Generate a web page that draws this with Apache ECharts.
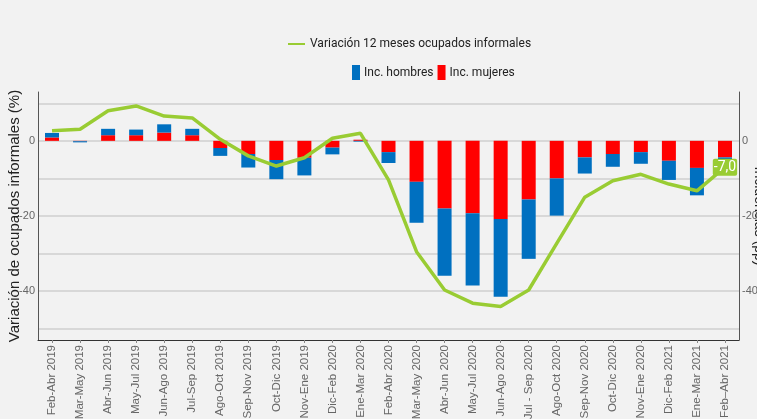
<!DOCTYPE html>
<html>
<head>
<meta charset="utf-8">
<script src="https://cdn.jsdelivr.net/npm/echarts@6/dist/echarts.min.js"></script>
<style>
    html,body{margin:0;padding:0;background:#f2f2f2;}
    #chart{width:757px;height:419px;}
</style>
</head>
<body>
<div id="chart"></div>
<script>
// trimestres moviles
var categorias = ['Feb-Abr 2019','Mar-May 2019','Abr-Jun 2019','May-Jul 2019','Jun-Ago 2019','Jul-Sep 2019',
    'Ago-Oct 2019','Sep-Nov 2019','Oct-Dic 2019','Nov-Ene 2019','Dic-Feb 2020','Ene-Mar 2020',
    'Feb-Abr 2020','Mar-May 2020','Abr-Jun 2020','May-Jul 2020','Jun-Ago 2020','Jul - Sep 2020',
    'Ago-Oct 2020','Sep-Nov 2020','Oct-Dic 2020','Nov-Ene 2020','Dic-Feb 2021','Ene-Mar 2021','Feb\u2013Abr 2021'];
// variacion 12 meses (%)
var variacion = [2.7, 3.1, 8.0, 9.3, 6.6, 6.1, 0.4, -4.0, -6.7, -4.5, 0.7, 2.0,
    -10.4, -29.5, -39.7, -43.2, -44.1, -39.7, -27.3, -15.0, -10.6, -8.9, -11.5, -13.3, -7.0];
// incidencias (pp)
var incHombres = [1.2, -0.3, 1.7, 1.5, 2.2, 1.7, -2.1, -3.6, -5.1, -4.7, -1.8, -0.2,
    -2.9, -10.9, -17.9, -19.2, -20.7, -15.8, -9.9, -4.3, -3.4, -3.1, -5.1, -7.3, -2.6];
var incMujeres = [0.9, -0.1, 1.5, 1.5, 2.2, 1.5, -1.9, -3.5, -5.1, -4.5, -1.8, 0.3,
    -3.0, -10.9, -18.0, -19.3, -20.8, -15.6, -10.0, -4.4, -3.5, -3.0, -5.3, -7.2, -4.4];
var lineasGrid = [-50, -40, -30, -20, -10, 0, 10];
var etiquetasY = [-40, -20, 0];

var fuente = "'Liberation Sans', Arial, sans-serif";
var fuenteLeyenda = "Roboto, 'Liberation Sans', sans-serif";
var verde = '#99cc33';

function coma(v){
    return v.toFixed(1).replace('.', ',');
}

//solo el ultimo punto lleva etiqueta
var datosLinea = [];
for(var i=0;i<variacion.length;i++){
    if(i == variacion.length-1){
        datosLinea.push({
            value: variacion[i],
            label: {
                show: true,
                position: 'inside',
                formatter: function(p){return coma(p.value);},
                color: '#fff',
                fontFamily: fuenteLeyenda,
                fontSize: 14,
                backgroundColor: verde,
                padding: [2, 1, 1, 1],
                borderRadius: 2
            }
        });
    } else {
        datosLinea.push(variacion[i]);
    }
}

function ejeY(pos, nombre, rotar, gap, tam){
    return {
        type: 'value',
        position: pos,
        min: -53,
        max: 13,
        name: nombre,
        nameLocation: 'middle',
        nameRotate: rotar,
        nameGap: gap,
        nameMoveOverlap: false,
        nameTextStyle: {color: '#222', fontSize: tam, fontFamily: fuente},
        axisLine: {show: true, lineStyle: {color: '#555', width: 1}},
        axisTick: {show: false, customValues: lineasGrid},
        axisLabel: {customValues: etiquetasY, color: '#666', fontSize: 11, fontFamily: fuente, margin: 3},
        splitLine: {show: pos == 'left', lineStyle: {color: '#cfcfcf', width: 1.5}}
    };
}

var chart = echarts.init(document.getElementById('chart'));
chart.setOption({
    backgroundColor: '#f2f2f2',
    animation: false,
    grid: {left: 38, right: 18, top: 92, bottom: 79, containLabel: false, outerBoundsMode: 'none'},
    legend: [
        {
            data: ['Variación 12 meses ocupados informales'],
            left: 283, top: 33,
            icon: 'rect', itemWidth: 17, itemHeight: 2, itemGap: 5,
            textStyle: {color: '#222', fontSize: 12, fontFamily: fuenteLeyenda}
        },
        {
            data: ['Inc. hombres', 'Inc. mujeres'],
            left: 347, top: 60,
            icon: 'rect', itemWidth: 8, itemHeight: 15, itemGap: 4,
            textStyle: {color: '#222', fontSize: 12, fontFamily: fuenteLeyenda, padding: [0, 0, 0, -1]}
        }
    ],
    xAxis: {
        type: 'category',
        data: categorias,
        axisLine: {onZero: false, lineStyle: {color: '#333', width: 1}},
        axisTick: {show: true, alignWithLabel: true, length: 3, lineStyle: {color: '#888'}},
        axisLabel: {interval: 0, rotate: 90, color: '#666', fontSize: 11.5, fontFamily: fuente, margin: 5}
    },
    yAxis: [
        ejeY('left', 'Variación de ocupados informales (%)', 90, 16, 15),
        ejeY('right', 'Incidencias (pp)', -90, 12.5, 14)
    ],
    series: [
        {
            name: 'Inc. mujeres',
            type: 'bar',
            stack: 'inc',
            yAxisIndex: 1,
            barWidth: 14,
            itemStyle: {color: '#ff0000'},
            data: incMujeres
        },
        {
            name: 'Inc. hombres',
            type: 'bar',
            stack: 'inc',
            yAxisIndex: 1,
            barWidth: 14,
            itemStyle: {color: '#0070c0'},
            data: incHombres
        },
        {
            name: 'Variación 12 meses ocupados informales',
            type: 'line',
            yAxisIndex: 0,
            z: 5,
            symbol: 'circle',
            symbolSize: 0,
            showSymbol: true,
            lineStyle: {color: verde, width: 3.5},
            itemStyle: {color: verde},
            data: datosLinea
        }
    ]
});
</script>
</body>
</html>
